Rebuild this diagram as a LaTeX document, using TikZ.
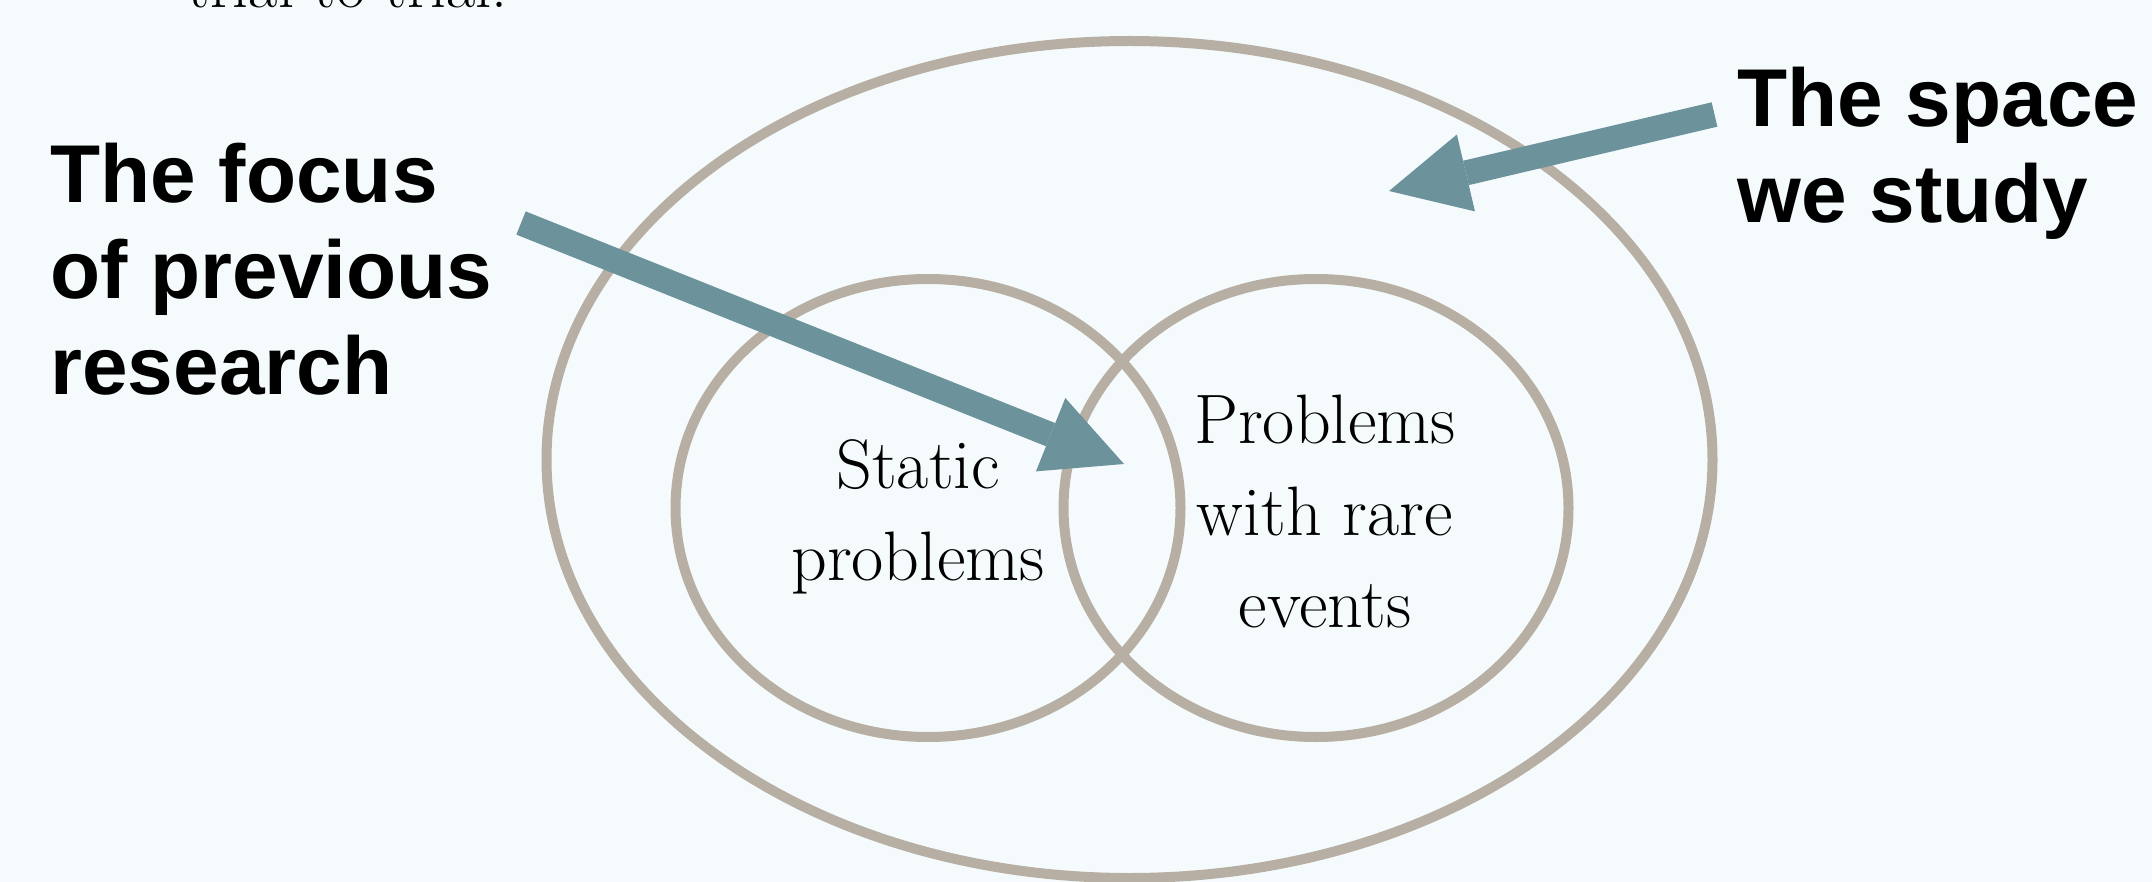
\documentclass[tikz,border=0pt]{standalone}
\usepackage{fontspec}
\newfontfamily\calloutfont{Liberation Sans}
\usetikzlibrary{arrows.meta}
\begin{document}
\begin{tikzpicture}[x=0.5pt,y=-0.5pt]
\definecolor{bgcolor}{RGB}{245,251,252}
\definecolor{ringcolor}{RGB}{183,174,164}
\definecolor{arrowcolor}{RGB}{108,146,155}
\tikzstyle{ring}=[draw=ringcolor,line width=5pt]
\tikzstyle{pointer}=[draw=arrowcolor,line width=12.5pt,-{Triangle[length=39.5pt,width=39.5pt,line width=0pt]}]
\tikzstyle{callout}=[inner sep=0pt,anchor=base west,align=left,font=\calloutfont\bfseries\fontsize{41}{48}\selectfont]
\tikzstyle{setlabel}=[inner sep=0pt,anchor=base,align=center,font=\fontsize{35}{46}\selectfont]
\fill[bgcolor] (0,0) rectangle (2152,882);
\useasboundingbox (0,0) rectangle (2152,882);
% sets
\coordinate (outer) at (1129.5,459.5);
\coordinate (staticset) at (928,508);
\coordinate (rareset) at (1316,508);
\draw[ring] (outer) ellipse [x radius=583,y radius=418.5];
\draw[ring] (staticset) ellipse [x radius=252.5,y radius=229];
\draw[ring] (rareset) ellipse [x radius=252.5,y radius=229];
% labels (base anchor sits on the last line)
\node[anchor=base west,inner sep=0pt,font=\fontsize{32}{38}\selectfont] (trial) at (187,8) {trial to trial.};
\node[callout] (focus) at (50,394) {The focus\\of previous\\research};
\node[callout] (space) at (1737,223) {The space\\we study};
\node[setlabel] (static) at (918,580) {Static\\problems};
\node[setlabel] (rare) at (1325,627) {Problems\\with rare\\events};
% arrows
\coordinate (focustail) at (521,223);
\coordinate (focustip) at (1124,464);
\coordinate (spacetail) at (1714.5,114.5);
\coordinate (spacetip) at (1389,191);
\draw[pointer] (focustail) -- (focustip);
\draw[pointer] (spacetail) -- (spacetip);
\end{tikzpicture}
\end{document}
